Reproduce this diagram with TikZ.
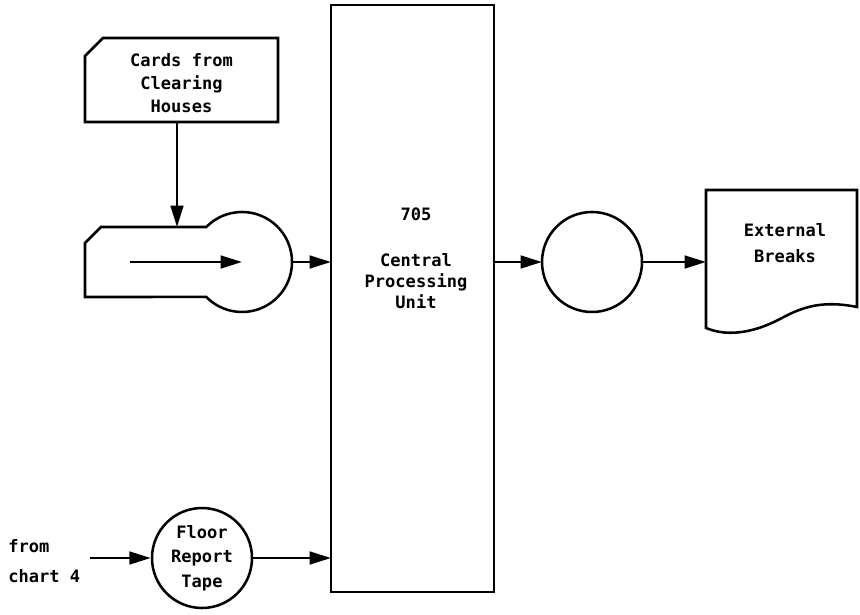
\documentclass[tikz,border=0pt]{standalone}
\usepackage{fontspec}
\setmonofont{DejaVu Sans Mono}
\usetikzlibrary{arrows.meta}
\begin{document}
\begin{tikzpicture}[x=0.75pt,y=-0.75pt,
  arr/.style={-{Triangle[length=16pt,width=9.5pt]}, line width=1.9pt},
  outline/.style={draw, line width=1.9pt, line join=miter},
  lbl/.style={font=\ttfamily\bfseries\fontsize{12.8}{17.25}\selectfont, align=center, inner sep=0pt},
  anchorbox/.style={inner sep=0pt, outer sep=0pt}]
\useasboundingbox (0,0) rectangle (860,614);

% Cards from Clearing Houses (punched card)
\draw[outline] (85,56) -- (103,38) -- (278,38) -- (278,122) -- (85,122) -- cycle;
\node[lbl] (cards) at (181.5,83) {Cards from\\Clearing\\Houses};
\coordinate (cardsbot) at (177,122);

% card reader
\coordinate (rtop) at (177,227);
\node[anchorbox, circle, minimum size=75pt] (reader) at (242,262) {};
\draw[outline] (85,243) -- (101,227) -- (206.3,227)
   arc[start angle=-135.6, end angle=135.6, radius=50] -- (85,297) -- cycle;
\coordinate (rin) at (130,262);
\draw[arr] (cardsbot) -- (rtop);
\draw[arr] (rin) -- (reader.center);

% CPU
\node[outline, anchorbox, minimum width=122.25pt, minimum height=440.25pt] (cpu) at (412.5,298.5) {};
\node[lbl, font=\ttfamily\bfseries\fontsize{12.8}{15.75}\selectfont] (cputext) at (416,258)
  {705\\[18.75pt]Central\\Processing\\Unit};

% output tape
\node[outline, anchorbox, circle, minimum size=75pt] (out) at (592,262) {};

% document
\node[anchorbox, minimum width=113.25pt, minimum height=105pt] (doc) at (781.5,262) {};
\draw[outline] (706,328) -- (706,190) -- (857,190) -- (857,307)
   .. controls (822,300) and (802,307) .. (780,319)
   .. controls (757,331) and (730,338) .. (706,328) -- cycle;
\node[lbl, font=\ttfamily\bfseries\fontsize{12.8}{19.5}\selectfont] (doctext) at (785,243) {External\\Breaks};

% floor report tape
\node[outline, circle, minimum size=75pt, lbl, font=\ttfamily\bfseries\fontsize{12.8}{18.5}\selectfont] (floor) at (202,558) {Floor\\Report\\Tape};
\node[lbl, align=left, anchor=west, font=\ttfamily\bfseries\fontsize{12.8}{22}\selectfont] (src) at (8,561) {from\\chart 4};

% connectors
\draw[arr] (reader.east) -- (reader.east -| cpu.west);
\draw[arr] (out.west -| cpu.east) -- (out.west);
\draw[arr] (out.east) -- (doc.west);
\draw[arr] ([xshift=7.5pt]src.east |- floor.west) -- (floor.west);
\draw[arr] (floor.east) -- (floor.east -| cpu.west);
\end{tikzpicture}
\end{document}
